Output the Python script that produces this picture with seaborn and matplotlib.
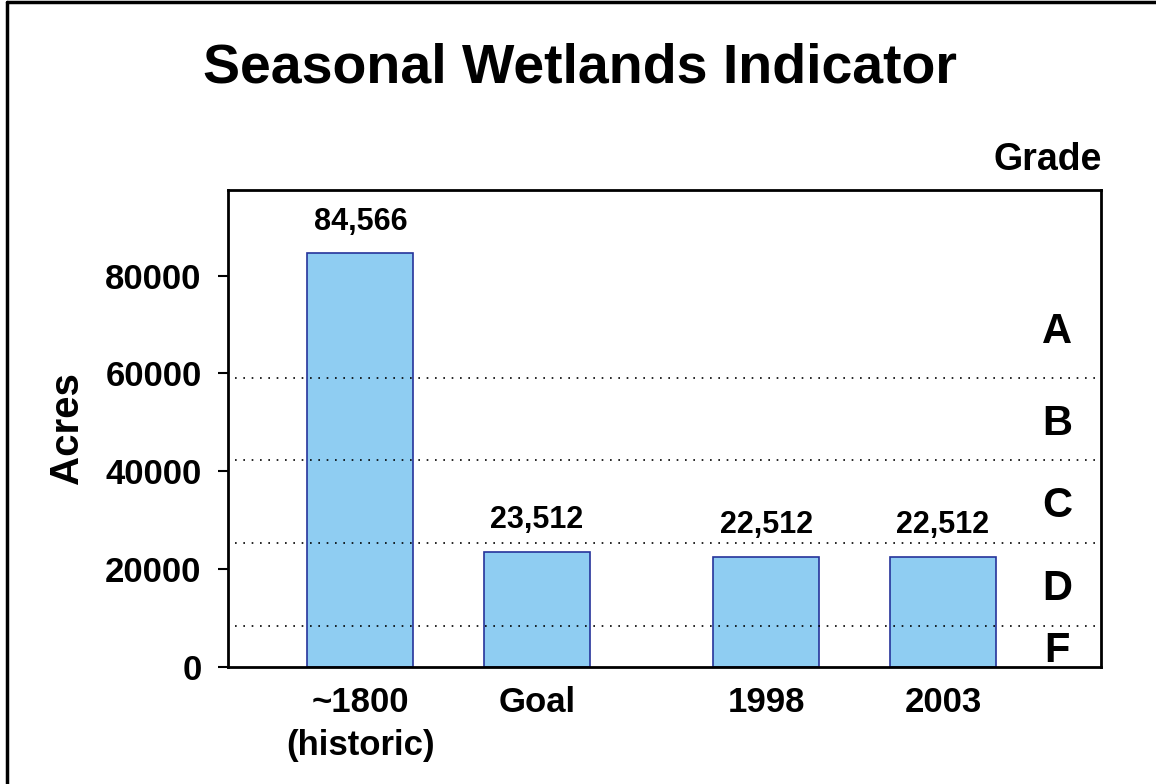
import matplotlib
matplotlib.use("Agg")

import matplotlib.pyplot as plt
import seaborn as sns
from matplotlib.lines import Line2D

# ==========================
# Data
# ==========================

periods = ["~1800\n(historic)", "Goal", "1998", "2003"]
acres = [84566, 23512, 22512, 22512]

# Grade thresholds (dotted lines), lowest to highest
grade_letters = ["F", "D", "C", "B", "A"]
grade_bounds = [8470, 25450, 42300, 59100]

yticks = [0, 20000, 40000, 60000, 80000]

# layout: gap between "Goal" and the observed years
bar_pos = [0, 1, 2.3, 3.3]

# ==========================
# Figure
# ==========================

sns.set_style("white")
plt.rcParams["font.family"] = ["Liberation Sans", "DejaVu Sans"]
plt.rcParams["font.weight"] = "bold"
plt.rcParams["text.color"] = "black"
plt.rcParams["axes.labelcolor"] = "black"
plt.rcParams["xtick.color"] = "black"
plt.rcParams["ytick.color"] = "black"

fig = plt.figure(figsize=(11.56, 7.84), dpi=100)
ax = fig.add_axes([0.1972, 0.1492, 0.7552, 0.6085])

sns.barplot(x=bar_pos, y=acres, native_scale=True, orient="x", width=0.6,
            color="#8fcdf2", edgecolor="#26349b", linewidth=1.2,
            errorbar=None, saturation=1, ax=ax)

ax.set_xlim(-0.75, 4.195)
ax.set_ylim(0, 97500)

# dotted grade lines
for b in grade_bounds:
    ax.axhline(b, xmin=0.008, xmax=0.995, color="black", lw=1.2,
               ls=(0, (1, 4)), zorder=3)

# grade letters, centred in each band (top band capped at 80000)
edges = [0] + grade_bounds + [80000]
for i, letter in enumerate(grade_letters):
    mid = (edges[i] + edges[i + 1]) / 2 - 1000
    ax.text(3.947, mid, letter, ha="center", va="center",
            fontsize=30, fontweight="bold", color="black")

# value labels
for p, v in zip(bar_pos, acres):
    ax.annotate(f"{v:,}", (p, v), xytext=(0, 12), textcoords="offset points",
                ha="center", va="bottom", fontsize=22, fontweight="bold",
                color="black")

ax.set_xticks(bar_pos)
ax.set_xticklabels(periods, fontsize=25, fontweight="bold", linespacing=1.35)
ax.set_yticks(yticks)
ax.set_yticklabels([str(t) for t in yticks], fontsize=25, fontweight="bold")
ax.tick_params(axis="x", length=0, pad=14)
ax.tick_params(axis="y", length=7, width=1.5, direction="out", pad=12,
               color="black", left=True)

ax.set_xlabel("")
ax.set_ylabel("Acres", fontsize=29, fontweight="bold")
ax.yaxis.set_label_coords(-0.163, 0.5)

for s in ax.spines.values():
    s.set_color("black")
    s.set_linewidth(2)

fig.text(0.502, 0.895, "Seasonal Wetlands Indicator", ha="center",
         va="baseline", fontsize=40, fontweight="bold", color="black")
fig.text(0.953, 0.796, "Grade", ha="right", va="center",
         fontsize=27, fontweight="bold", color="black")

# outer frame (top and left edges only)
fig.add_artist(Line2D([0.006, 1.0], [0.997, 0.997], color="black", lw=2.5,
                      transform=fig.transFigure))
fig.add_artist(Line2D([0.006, 0.006], [0.0, 0.997], color="black", lw=2.5,
                      transform=fig.transFigure))

fig.savefig("out.png", dpi=100)
